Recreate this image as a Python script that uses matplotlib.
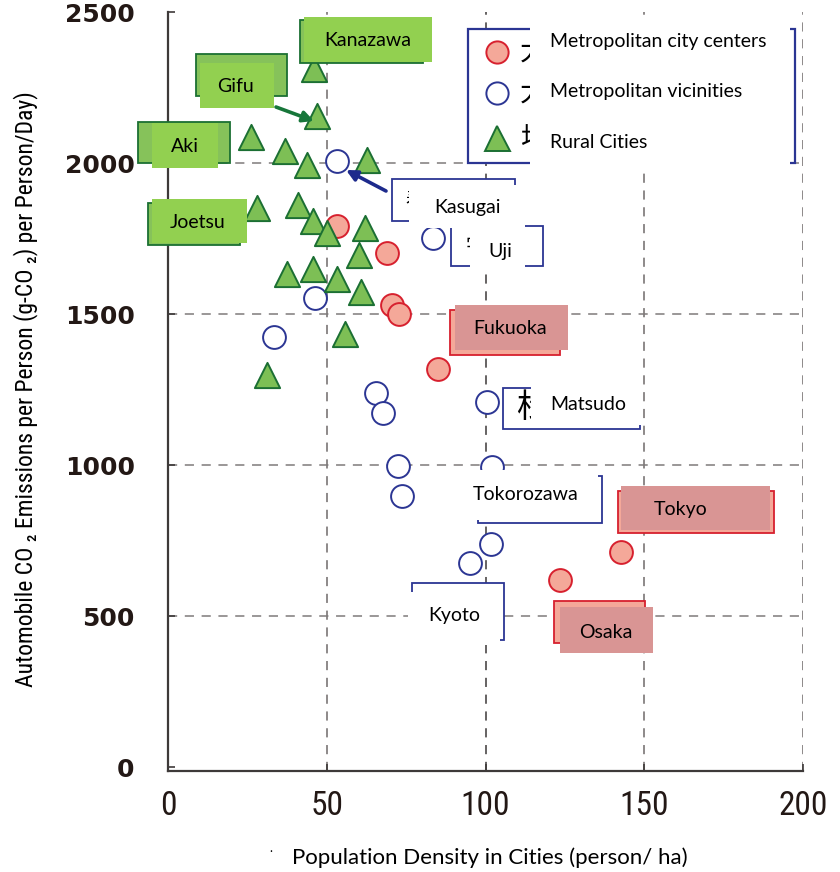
import matplotlib
matplotlib.use("Agg")
import matplotlib.pyplot as plt
from matplotlib.patches import Rectangle, FancyArrowPatch
from matplotlib.lines import Line2D
from matplotlib import font_manager
from matplotlib.font_manager import FontProperties

# ---------------- data ----------------
rural_x = [46.0, 46.9, 26.2, 36.9, 43.7, 62.6, 28.1, 41.0, 45.7, 50.0,
           62.1, 60.2, 37.5, 45.7, 53.3, 60.7, 55.8, 31.2]
rural_y = [2313, 2157, 2087, 2041, 1995, 2011, 1852, 1862, 1809, 1769,
           1786, 1697, 1634, 1650, 1617, 1574, 1435, 1299]
center_x = [53.3, 69.0, 70.6, 72.8, 85.1, 142.7, 123.5]
center_y = [1792, 1703, 1531, 1501, 1319, 712, 620]
vicinity_x = [53.2, 83.5, 46.3, 33.4, 65.6, 67.8, 100.5, 72.5, 102.1, 73.7, 101.8, 95.2]
vicinity_y = [2009, 1753, 1554, 1425, 1239, 1173, 1209, 997, 994, 898, 739, 676]

x_ticks = [0, 50, 100, 150, 200]
y_ticks = [0, 500, 1000, 1500, 2000, 2500]
legend_labels = ["Metropolitan city centers", "Metropolitan vicinities", "Rural Cities"]
x_label = "Population Density in Cities (person/ ha)"
y_label = "Automobile CO \u2082 Emissions per Person (g-CO \u2082) per Person/Day)"

# ---------------- fonts ----------------
W, H = 840, 872
entries = font_manager.fontManager.ttflist


def find_narrow():
    for want in ["Liberation Sans Narrow", "Roboto Condensed", "Open Sans Condensed",
                 "Noto Sans Condensed"]:
        for f in entries:
            if f.name == want and f.style == "normal" and f.weight in (400, "normal", "regular"):
                return FontProperties(fname=f.fname)
    for f in entries:
        if f.name == "DejaVu Sans" and "condensed" in str(f.stretch) and \
                f.style == "normal" and f.weight in (400, "normal", "regular"):
            return FontProperties(fname=f.fname)
    for f in entries:
        if ("Condensed" in f.fname or "Narrow" in f.fname) and "Bold" not in f.fname \
                and "Italic" not in f.fname and "Oblique" not in f.fname:
            return FontProperties(fname=f.fname)
    return FontProperties(family="Roboto")


NARROW_FP = find_narrow()
LABEL = "Lato"
CJK = "Noto Sans CJK JP"
INK = "#231815"
RED_FC, RED_EC = "#f4a899", "#d7202e"
BLUE_EC = "#2b3593"
GRN_FC, GRN_EC = "#7dbf55", "#1b6f33"
LBL_GREEN = "#92d050"
BACK_GREEN = "#86c25a"
ROSE = "#d99594"

fig = plt.figure(figsize=(W / 100, H / 100), dpi=100)
ax = fig.add_axes([168 / W, (H - 771) / H, (803 - 168) / W, (771 - 12.5) / H])

ax.scatter(center_x, center_y, s=270, marker="o", facecolor=RED_FC,
           edgecolor=RED_EC, linewidth=1.4, zorder=3)
ax.scatter(vicinity_x, vicinity_y, s=270, marker="o", facecolor="white",
           edgecolor=BLUE_EC, linewidth=1.4, zorder=3)
ax.scatter(rural_x, rural_y, s=330, marker="^", facecolor=GRN_FC,
           edgecolor=GRN_EC, linewidth=1.4, zorder=4)

ax.set_xlim(0, 200)
ax.set_ylim(-13, 2500)
for v in x_ticks[1:]:
    ax.axvline(v, color="#6f6a6a" if v != 100 else "#3c3838", lw=1.1,
               dashes=(6, 5), zorder=1)
for v in y_ticks[1:-1]:
    ax.axhline(v, color="#7f7b7b", lw=1.1, dashes=(6, 5), zorder=1)

for s in ["top", "right"]:
    ax.spines[s].set_visible(False)
for s in ["left", "bottom"]:
    ax.spines[s].set_color("#3e3a39")
    ax.spines[s].set_linewidth(1.6)

ax.set_xticks(x_ticks)
ax.set_yticks(y_ticks)
ax.tick_params(axis="both", direction="in", length=5, width=1.2, color="#3e3a39")
ax.tick_params(axis="x", pad=14, labelcolor=INK)
ax.tick_params(axis="y", pad=24, labelcolor=INK)
for t in ax.get_xticklabels():
    t.set_fontproperties(NARROW_FP)
    t.set_fontsize(24)
for t in ax.get_yticklabels():
    t.set_family("DejaVu Sans")
    t.set_fontweight("bold")
    t.set_fontsize(18)


# ---------------- helpers (reference pixel coords -> figure fraction) ----------------
def fx(x):
    return x / W


def fy(y):
    return 1 - y / H


def box(x0, y0, x1, y1, fc, ec="none", lw=1.3, z=5):
    fig.add_artist(Rectangle((fx(x0), fy(y1)), (x1 - x0) / W, (y1 - y0) / H,
                             transform=fig.transFigure, facecolor=fc,
                             edgecolor=ec, linewidth=lw, zorder=z))


def txt(x, y, s, size=14, z=7, family=LABEL, color="black", ha="center", **kw):
    return fig.text(fx(x), fy(y), s, ha=ha, va="center", fontsize=size,
                    family=family, color=color, zorder=z, **kw)


def arrow(x0, y0, x1, y1, color):
    fig.add_artist(FancyArrowPatch((fx(x0), fy(y0)), (fx(x1), fy(y1)),
                                   transform=fig.transFigure, arrowstyle="-|>",
                                   mutation_scale=16, lw=2.6, color=color,
                                   shrinkA=0, shrinkB=0, zorder=8))


# ---------------- legend ----------------
box(468, 29, 795, 163, "white", BLUE_EC, lw=1.6, z=5)
for yy, ch in [(52, "大"), (93, "大"), (139, "地")]:
    txt(534, yy, ch, size=20, z=5.5, family=CJK)
box(530, 22, 790, 170, "white", z=6)
fig.add_artist(Line2D([fx(497)], [fy(52)], marker="o", markersize=16,
                      markerfacecolor=RED_FC, markeredgecolor=RED_EC,
                      markeredgewidth=1.4, transform=fig.transFigure, zorder=7))
fig.add_artist(Line2D([fx(497)], [fy(93)], marker="o", markersize=16,
                      markerfacecolor="white", markeredgecolor=BLUE_EC,
                      markeredgewidth=1.4, transform=fig.transFigure, zorder=7))
fig.add_artist(Line2D([fx(497)], [fy(138)], marker="^", markersize=18,
                      markerfacecolor=GRN_FC, markeredgecolor=GRN_EC,
                      markeredgewidth=1.4, transform=fig.transFigure, zorder=7))
for yy, lab in zip([41, 92, 143], legend_labels):
    txt(550, yy, lab, size=14, ha="left")

# ---------------- rural city labels ----------------
box(300, 20, 423, 63, BACK_GREEN, GRN_EC, z=5)
box(304, 17, 432, 62, LBL_GREEN, z=6)
txt(368, 40, "Kanazawa")

box(196, 54, 287, 96, BACK_GREEN, GRN_EC, z=5)
box(200, 63, 274, 108, LBL_GREEN, z=6)
txt(236, 86, "Gifu")
arrow(276, 107, 314, 121, "#17763a")

box(138, 122, 230, 163, BACK_GREEN, GRN_EC, z=5)
box(152, 123, 218, 168, LBL_GREEN, z=6)
txt(185, 146, "Aki")

box(148, 203, 240, 245, BACK_GREEN, GRN_EC, z=5)
box(152, 199, 247, 243, LBL_GREEN, z=6)
txt(198, 222, "Joetsu")

# ---------------- vicinity labels ----------------
box(392, 179, 515, 221, "white", BLUE_EC, z=5)
txt(415, 201, "春", size=14, family=CJK, z=5.5)
box(409, 185, 522, 228, "white", z=6)
txt(468, 208, "Kasugai")
arrow(386, 191, 346, 170, "#1d2a8c")

box(451, 226, 543, 266, "white", BLUE_EC, z=5)
txt(475, 246, "宇", size=14, family=CJK, z=5.5)
box(470, 222, 525, 272, "white", z=6)
txt(500, 252, "Uji")

box(503, 388, 640, 429, "white", BLUE_EC, z=5)
txt(533, 407, "松", size=24, family=CJK, z=5.5)
box(531, 383, 642, 425, "white", z=6)
txt(588, 404, "Matsudo")

box(478, 476, 602, 523, "white", BLUE_EC, z=5)
box(462, 470, 598, 520, "white", z=6)
txt(526, 494, "Tokorozawa")

box(412, 583, 504, 640, "white", BLUE_EC, z=5)
box(408, 592, 500, 645, "white", z=6)
txt(454, 616, "Kyoto")

# ---------------- center labels ----------------
box(450, 310, 560, 355, RED_FC, RED_EC, z=5)
box(455, 305, 568, 350, ROSE, z=6)
txt(510, 328, "Fukuoka")

box(618, 491, 774, 533, RED_FC, RED_EC, z=5)
box(621, 486, 770, 530, ROSE, z=6)
txt(681, 510, "Tokyo")

box(554, 601, 645, 643, RED_FC, RED_EC, z=5)
box(560, 607, 653, 653, ROSE, z=6)
txt(606, 632, "Osaka")

# ---------------- axis titles ----------------
txt(490, 858, x_label, size=16, z=3)
yl = fig.text(fx(26), fy(389), y_label, ha="center", va="center", rotation=90,
              fontproperties=NARROW_FP, color="black", zorder=3)
yl.set_fontsize(17)
txt(271, 848, ".", size=9, z=3)

fig.savefig("out.png", dpi=100)
